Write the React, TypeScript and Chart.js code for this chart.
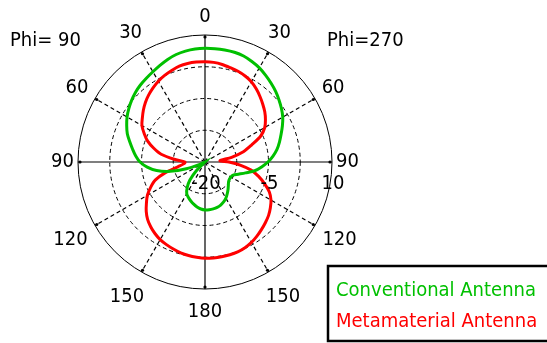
import React, { useEffect, useRef } from 'react';
import { Chart, registerables } from 'chart.js';

Chart.register(...registerables);

// Cut angle of every sample, clockwise from the top of the plot (5° steps).
// Right half is the Phi=270 plane, left half the Phi=90 plane.
const cutAngles = [
  0, 5, 10, 15, 20, 25, 30, 35, 40, 45, 50, 55, 60, 65, 70, 75, 80, 85,
  90, 95, 100, 105, 110, 115, 120, 125, 130, 135, 140, 145, 150, 155, 160, 165, 170, 175,
  180, 185, 190, 195, 200, 205, 210, 215, 220, 225, 230, 235, 240, 245, 250, 255, 260, 265,
  270, 275, 280, 285, 290, 295, 300, 305, 310, 315, 320, 325, 330, 335, 340, 345, 350, 355,
];

// Gain (dB) of the conventional antenna at each cut angle.
const conventionalGain = [
  6.86, 6.86, 6.86, 6.83, 6.64, 6.2, 5.68, 4.99, 4.3, 3.6, 2.82, 2.04, 1.21, 0.17, -0.87, -1.79, -2.73, -3.87,
  -5.14, -6.58, -8.07, -10.08, -11.6, -12.68, -12.96, -12.96, -12.73, -12.2, -11.54, -10.84, -10.13, -9.6, -9.18, -8.9, -8.76, -8.68,
  -8.66, -8.85, -9.2, -9.68, -10.2, -10.74, -11.38, -12.68, -14.45, -17.17, -20, -20, -20, -18.8, -15.3, -11.5, -8.4, -6.3,
  -4.65, -3.58, -2.64, -1.6, -0.47, 0.41, 1.26, 1.97, 2.63, 3.24, 3.74, 4.16, 4.61, 5.18, 5.79, 6.29, 6.6, 6.79,
];

// Gain (dB) of the metamaterial antenna at each cut angle.
const metamaterialGain = [
  3.69, 3.62, 3.39, 3.06, 2.8, 2.42, 1.9, 1.09, 0.2, -0.7, -1.57, -2.57, -3.7, -5.47, -8.31, -10.62, -13.62, -16.46,
  -14.33, -11.66, -8.94, -6.89, -5.05, -3.23, -2.0, -1.15, -0.39, 0.2, 0.79, 1.38, 1.94, 2.35, 2.6, 2.68, 2.72, 2.75,
  2.75, 2.58, 2.42, 2.2, 1.87, 1.54, 1.17, 0.62, -0.04, -0.82, -1.88, -3.11, -4.29, -5.83, -7.48, -10.32, -13.5, -14.92,
  -15.28, -12.68, -9.49, -7.48, -5.59, -4.17, -2.8, -1.93, -0.99, -0.09, 0.69, 1.4, 2.04, 2.56, 3.0, 3.43, 3.62, 3.69,
];

const seriesNames = ['Conventional Antenna', 'Metamaterial Antenna'];
const seriesColors = ['#00c000', '#ff0000'];

// Radial axis: dB range and ring spacing, plus the rings that carry a label.
const gainMin = -20;
const gainMax = 10;
const ringStep = 7.5;
const labelledRings = [-20, -5, 10];

// Angle ticks every 30°, shown as theta (0..180) on both halves.
const angleTickStep = 30;
const planeLabels = ['Phi= 90', 'Phi=270'];

const FONT = '20px "DejaVu Sans Condensed", "DejaVu Sans", sans-serif';
const WIDTH = 547;
const HEIGHT = 343;

// Polar frame placement inside the canvas.
const FRAME = { cx: 205, cy: 162, radius: 127 };

const decorations = {
  id: 'polarDecorations',
  afterDraw(chart: any) {
    const scale = chart.scales.r;
    const ctx: CanvasRenderingContext2D = chart.ctx;
    const R = scale.drawingArea;
    ctx.save();

    // small marks where the 30° spokes meet the outer ring
    ctx.fillStyle = '#000';
    for (let a = 0; a < 360; a += angleTickStep) {
      const idx = cutAngles.indexOf(a);
      const p = scale.getPointPosition(idx, R - 2);
      ctx.beginPath();
      ctx.arc(p.x, p.y, 1.6, 0, Math.PI * 2);
      ctx.fill();
    }

    ctx.font = FONT;
    ctx.fillStyle = '#000';
    ctx.textAlign = 'center';
    ctx.textBaseline = 'middle';

    // theta labels around the frame
    for (let a = 0; a < 360; a += angleTickStep) {
      const idx = cutAngles.indexOf(a);
      const text = String(a <= 180 ? a : 360 - a);
      const w = ctx.measureText(text).width;
      const rad = (a * Math.PI) / 180;
      const c = Math.cos(rad);
      const ext = Math.abs(Math.sin(rad)) * (w / 2) + Math.abs(c) * 7;
      const gap = 4 + 7 * Math.abs(c) + Math.max(0, -c) * 5;
      const p = scale.getPointPosition(idx, R + gap + ext);
      ctx.fillText(text, p.x, p.y);
    }

    // gain labels under the 90° axis
    const sideIdx = cutAngles.indexOf(90);
    labelledRings.forEach((v) => {
      const p = scale.getPointPosition(sideIdx, scale.getDistanceFromCenterForValue(v));
      ctx.fillText(String(v), p.x + 1, p.y + 22);
    });

    // plane captions
    ctx.textAlign = 'left';
    ctx.fillText(planeLabels[0], 10, 41);
    ctx.fillText(planeLabels[1], 327, 41);

    // legend box
    ctx.lineWidth = 2.5;
    ctx.strokeStyle = '#000';
    ctx.strokeRect(328, 266, 230, 75);
    chart.data.datasets.forEach((ds: any, i: number) => {
      ctx.fillStyle = ds.borderColor;
      ctx.fillText(ds.label, 336, 291 + i * 31);
    });

    ctx.restore();
  },
};

export default function App() {
  const canvasRef = useRef<HTMLCanvasElement | null>(null);

  useEffect(() => {
    const canvas = canvasRef.current;
    if (!canvas) return;
    const lineStyle = {
      backgroundColor: 'transparent',
      borderWidth: 3,
      pointRadius: 0,
      fill: false,
      tension: 0.3,
    };
    const chart = new Chart(canvas, {
      type: 'radar',
      data: {
        labels: cutAngles.map(String),
        datasets: [
          { ...lineStyle, label: seriesNames[0], data: conventionalGain, borderColor: seriesColors[0] },
          { ...lineStyle, label: seriesNames[1], data: metamaterialGain, borderColor: seriesColors[1] },
        ],
      },
      options: {
        responsive: false,
        animation: false,
        events: [],
        layout: { padding: 0 },
        plugins: {
          legend: { display: false },
          tooltip: { enabled: false },
        },
        scales: {
          r: {
            min: gainMin,
            max: gainMax,
            startAngle: 0,
            ticks: { display: false, stepSize: ringStep },
            pointLabels: { display: false },
            grid: {
              circular: true,
              color: '#000',
              lineWidth: 1,
              borderDash: (c: any) => (c.index === 4 ? [] : [4, 3]),
            } as any,
            border: {
              dash: (c: any) => (c.index === 4 ? [] : [4, 3]),
            } as any,
            angleLines: {
              display: true,
              color: '#000',
              lineWidth: (c: any) => (cutAngles[c.index] % angleTickStep === 0 ? 1.2 : 0),
              borderDash: (c: any) => (cutAngles[c.index] % 90 === 0 ? [] : [4, 3]),
            } as any,
            afterFit: (scale: any) => {
              scale.xCenter = FRAME.cx;
              scale.yCenter = FRAME.cy;
              scale.drawingArea = FRAME.radius;
            },
          },
        },
      },
      plugins: [decorations],
    });
    return () => chart.destroy();
  }, []);

  return (
    <div style={{ position: 'absolute', left: 0, top: 0, width: WIDTH, height: HEIGHT, background: '#fff' }}>
      <canvas ref={canvasRef} width={WIDTH} height={HEIGHT} />
    </div>
  );
}
